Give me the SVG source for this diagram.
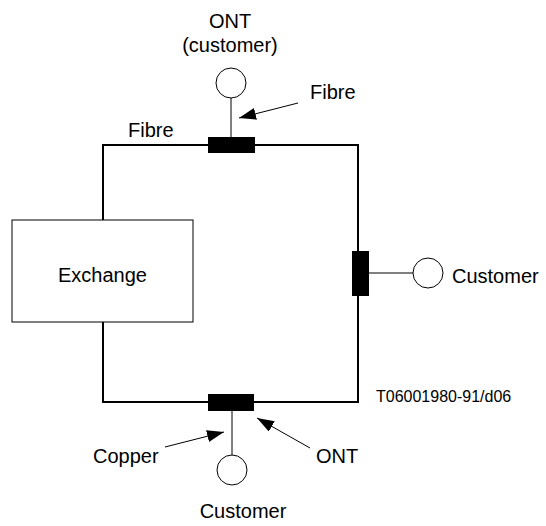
<svg xmlns="http://www.w3.org/2000/svg" width="546" height="526" viewBox="0 0 546 526">
<style>
text{font-family:"Liberation Sans",Arial,sans-serif;font-size:20px;fill:#000}
.loop{stroke:#000;stroke-width:2;fill:none}
.stem{stroke:#000;stroke-width:1;fill:none}
.ont{fill:#fff;stroke:#000;stroke-width:1}
.blk{fill:#000}
.arr{stroke:#000;stroke-width:1;fill:none;marker-end:url(#ah)}
</style>
<defs>
<marker id="ah" markerUnits="userSpaceOnUse" markerWidth="20" markerHeight="14" refX="17" refY="6" orient="auto">
<path d="M0,0 L17,6 L0,12 Z" fill="#000"/>
</marker>
</defs>
<rect width="546" height="526" fill="#fff"/>
<g id="connectors">
<path class="loop" d="M103,220 V145 H358 V402 H103 V322"/>
<line class="stem" x1="231" y1="98" x2="231" y2="137"/>
<line class="stem" x1="369" y1="273" x2="413" y2="273"/>
<line class="stem" x1="232" y1="411" x2="232" y2="455"/>
<line class="arr" x1="298" y1="103" x2="239" y2="118"/>
<line class="arr" x1="165" y1="447" x2="224" y2="432"/>
<line class="arr" x1="310" y1="448" x2="257" y2="418"/>
</g>
<g id="exchange">
<rect x="12" y="220" width="181" height="102" fill="#fff" stroke="#000" stroke-width="1"/>
<text x="102.5" y="282" text-anchor="middle">Exchange</text>
</g>
<g id="ont-top">
<rect class="blk" x="208" y="137" width="47" height="16"/>
<circle class="ont" cx="231" cy="83" r="15"/>
<text x="230" y="28" text-anchor="middle">ONT</text>
<text x="230" y="52" text-anchor="middle">(customer)</text>
</g>
<g id="ont-right">
<rect class="blk" x="352" y="251" width="17" height="45"/>
<circle class="ont" cx="428" cy="273" r="15"/>
<text x="452" y="283">Customer</text>
</g>
<g id="ont-bottom">
<rect class="blk" x="208" y="394" width="46" height="17"/>
<circle class="ont" cx="232" cy="470" r="15"/>
<text x="243" y="518" text-anchor="middle">Customer</text>
</g>
<g id="labels">
<text x="128" y="137">Fibre</text>
<text x="310" y="99">Fibre</text>
<text x="93" y="463">Copper</text>
<text x="316" y="463">ONT</text>
<text x="376" y="402" style="font-size:16px">T06001980-91/d06</text>
</g>
</svg>
